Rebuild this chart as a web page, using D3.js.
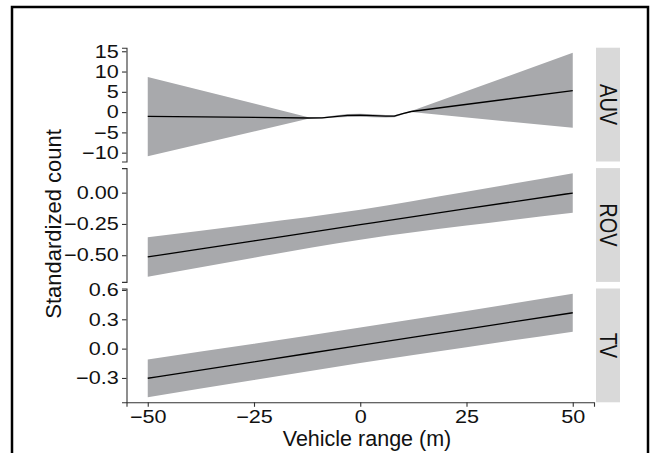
<!DOCTYPE html>
<html>
<head>
<meta charset="utf-8">
<script src="https://cdn.jsdelivr.net/npm/d3@7"></script>
<style>
  body { margin: 0; background: #fff; }
  text { font-family: "Liberation Sans", Arial, sans-serif; fill: #111; }
</style>
</head>
<body>
<script>
// facet names
var facets = ["AUV", "ROV", "TV"];

// fitted curves (vehicle range, fit, lower, upper)
var auvRange = [-50, -12, -9, -6, -3, 0, 3, 6, 8, 10, 12, 50];
var auvFit   = [-1.06, -1.45, -1.4, -1.1, -0.8, -0.75, -0.85, -1.0, -1.0, -0.4, 0.15, 5.28];
var auvLower = [-10.9, -1.6, -1.55, -1.35, -1.2, -1.15, -1.25, -1.35, -1.25, -0.6, 0.0, -3.85];
var auvUpper = [8.64, -1.3, -1.25, -0.85, -0.45, -0.4, -0.5, -0.7, -0.75, -0.2, 0.3, 14.6];

var rovRange = [-50, -25, 0, 25, 50];
var rovFit   = [-0.514, -0.385, -0.256, -0.128, -0.003];
var rovLower = [-0.672, -0.520, -0.376, -0.263, -0.161];
var rovUpper = [-0.356, -0.250, -0.136, 0.007, 0.155];

var tvRange = [-50, -25, 0, 25, 50];
var tvFit   = [-0.303, -0.136, 0.034, 0.200, 0.367];
var tvLower = [-0.496, -0.321, -0.148, 0.015, 0.172];
var tvUpper = [-0.110, 0.049, 0.216, 0.385, 0.562];

// tick values and labels
var xTicks = [-50, -25, 0, 25, 50];
var xTickLabels = ["\u221250", "\u221225", "0", "25", "50"];
var auvTicks = [-10, -5, 0, 5, 10, 15];
var auvTickLabels = ["\u221210", "\u22125", "0", "5", "10", "15"];
var rovTicks = [-0.5, -0.25, 0];
var rovTickLabels = ["\u22120.50", "\u22120.25", "0.00"];
var tvTicks = [-0.3, 0, 0.3, 0.6];
var tvTickLabels = ["\u22120.3", "0.0", "0.3", "0.6"];

var panels = [
  {name: facets[0], x: auvRange, fit: auvFit, lo: auvLower, hi: auvUpper, ticks: auvTicks, labels: auvTickLabels, curve: d3.curveLinear},
  {name: facets[1], x: rovRange, fit: rovFit, lo: rovLower, hi: rovUpper, ticks: rovTicks, labels: rovTickLabels, curve: d3.curveMonotoneX},
  {name: facets[2], x: tvRange, fit: tvFit, lo: tvLower, hi: tvUpper, ticks: tvTicks, labels: tvTickLabels, curve: d3.curveMonotoneX}
];

var W = 650, H = 453;
var plotLeft = 126.5, plotRight = 594, plotTop = 47.7, plotBottom = 402.3, gap = 6.6;
var panelH = (plotBottom - plotTop - 2 * gap) / 3;
var stripX = 596, stripW = 24;
var stretch = 1.2;

var svg = d3.select("body").append("svg")
    .attr("width", W)
    .attr("height", H);

// outer frame
svg.append("rect")
    .attr("x", 12).attr("y", 7)
    .attr("width", 636).attr("height", 470)
    .attr("fill", "none")
    .attr("stroke", "#000")
    .attr("stroke-width", 2.5);

var x = d3.scaleLinear().domain([-55, 55]).range([plotLeft, plotRight]);

panels.forEach(function(p, i) {
  var y0 = plotTop + i * (panelH + gap);
  var lo = d3.min(p.lo), hi = d3.max(p.hi), pad = (hi - lo) * 0.05;
  var y = d3.scaleLinear().domain([lo - pad, hi + pad]).range([y0 + panelH, y0]);

  var rows = p.x.map(function(v, j) { return {x: v, fit: p.fit[j], lo: p.lo[j], hi: p.hi[j]}; });

  var band = d3.area()
      .x(function(d) { return x(d.x); })
      .y0(function(d) { return y(d.lo); })
      .y1(function(d) { return y(d.hi); })
      .curve(p.curve);
  var line = d3.line()
      .x(function(d) { return x(d.x); })
      .y(function(d) { return y(d.fit); })
      .curve(p.curve);

  svg.append("path")
      .datum(rows)
      .attr("fill", "#a8a9ac")
      .attr("d", band);
  svg.append("path")
      .datum(rows)
      .attr("fill", "none")
      .attr("stroke", "#000")
      .attr("stroke-width", 1.3)
      .attr("stroke-linejoin", "round")
      .attr("d", line);

  // left axis
  var ax = svg.append("g")
      .attr("transform", "translate(" + plotLeft + ",0)")
      .call(d3.axisLeft(y).tickValues(p.ticks)
        .tickFormat(function(d, k) { return p.labels[k]; })
        .tickSizeOuter(0).tickSize(4.5).tickPadding(2));
  ax.select(".domain").attr("stroke", "#333").attr("stroke-width", 1.1);
  ax.selectAll(".tick line").attr("stroke", "#333").attr("stroke-width", 1.1);
  ax.selectAll(".tick text")
      .attr("font-size", 18)
      .attr("fill", "#111")
      .attr("font-family", "Liberation Sans, Arial, sans-serif")
      .attr("transform", "scale(" + stretch + ",1)");

  // strip
  svg.append("rect")
      .attr("x", stripX).attr("y", y0)
      .attr("width", stripW).attr("height", panelH)
      .attr("fill", "#d9d9d9");
  svg.append("text")
      .attr("transform", "translate(" + (stripX + stripW / 2) + "," + (y0 + panelH / 2) + ") scale(1.18,1) rotate(90)")
      .attr("text-anchor", "middle")
      .attr("dy", "0.36em")
      .attr("font-size", 20)
      .text(p.name);
});

// bottom axis
var bx = svg.append("g")
    .attr("transform", "translate(0," + plotBottom + ")")
    .call(d3.axisBottom(x).tickValues(xTicks)
      .tickFormat(function(d, k) { return xTickLabels[k]; })
      .tickSizeOuter(0).tickSize(4.5).tickPadding(3));
bx.select(".domain").attr("stroke", "#333").attr("stroke-width", 1.1);
bx.selectAll(".tick line").attr("stroke", "#333").attr("stroke-width", 1.1);
bx.selectAll(".tick text")
    .attr("font-size", 18)
    .attr("fill", "#111")
    .attr("font-family", "Liberation Sans, Arial, sans-serif")
    .attr("transform", "scale(" + stretch + ",1)");

// axis titles
svg.append("text")
    .attr("x", 367).attr("y", 445.5)
    .attr("text-anchor", "middle")
    .attr("font-size", 21.5)
    .text("Vehicle range (m)");

svg.append("text")
    .attr("transform", "translate(61,224)rotate(-90)")
    .attr("text-anchor", "middle")
    .attr("font-size", 22)
    .text("Standardized count");
</script>
</body>
</html>
